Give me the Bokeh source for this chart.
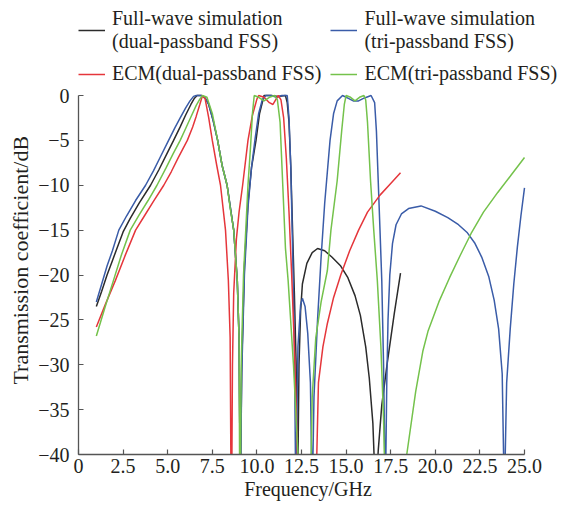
from bokeh.plotting import figure
from bokeh.models import Range1d, FixedTicker, Legend, LegendItem
from bokeh.embed import file_html
from bokeh.resources import INLINE

FONT = "Liberation Serif"
TXT = "#231f20"

# ---------------- data ----------------
x_ticks = [0, 2.5, 5, 7.5, 10, 12.5, 15, 17.5, 20, 22.5, 25]
x_tick_labels = ["0", "2.5", "5.0", "7.5", "10.0", "12.5", "15.0", "17.5", "20.0", "22.5", "25.0"]
y_ticks = [-40, -35, -30, -25, -20, -15, -10, -5, 0]
y_tick_labels = ["\u221240", "\u221235", "\u221230", "\u221225", "\u221220", "\u221215", "\u221210", "\u22125", "0"]
x_lo, x_hi = 0, 25
y_lo, y_hi = -40, 0
x_title = "Frequency/GHz"
y_title = "Transmission coefficient/dB"

# Full-wave simulation (dual-passband FSS)
black_f = [1.0, 1.3, 1.6, 1.9, 2.2, 2.5, 2.9, 3.4, 4.04, 4.5,
           5.0, 5.33, 5.7, 6.0, 6.3, 6.5, 6.65, 6.9, 7.1, 7.3,
           7.55, 7.8, 8.05, 8.33, 8.55, 8.7, 8.9, 9.0, 9.07, 9.15,
           9.3, 9.5, 9.7, 9.95, 10.15, 10.4, 10.8, 11.2, 11.6, 11.7,
           11.8, 11.9, 12.0, 12.1, 12.2, 12.28, 12.36, 12.45, 12.55, 12.8,
           13.1, 13.4, 13.8, 14.2, 14.7, 15.1, 15.5, 15.8, 16.1, 16.3,
           16.5, 16.66, 16.8, 17.0, 17.3, 17.7, 18.05]
black_db = [-23.5, -21.8, -20.0, -18.4, -16.8, -15.2, -13.7, -12.0, -10.0, -8.3,
            -6.3, -5.0, -3.5, -2.2, -1.0, -0.3, 0, 0, -0.3, -1.0,
            -2.8, -5.0, -7.8, -10.0, -13.0, -15.0, -20.6, -27, -45, -30,
            -19, -12, -8, -5, -2, 0, 0, -0.1, 0, -0.8,
            -3, -8, -15, -22, -30, -45, -30, -24, -21, -18.7,
            -17.5, -17.05, -17.3, -18.0, -19.0, -20.3, -22.3, -24.5, -28.0, -31.5,
            -36.5, -45, -39.6, -34.5, -29.9, -24.3, -19.8]

# Full-wave simulation (tri-passband FSS)
blue_f = [1.0, 1.3, 1.6, 1.9, 2.26, 2.7, 3.2, 3.76, 4.2, 4.6,
          5.05, 5.4, 5.7, 6.0, 6.25, 6.45, 6.6, 6.9, 7.1, 7.3,
          7.55, 7.8, 8.05, 8.33, 8.55, 8.7, 8.9, 9.0, 9.07, 9.15,
          9.3, 9.5, 9.7, 9.9, 10.1, 10.3, 10.5, 10.8, 11.1, 11.4,
          11.7, 11.8, 11.9, 12.0, 12.1, 12.18, 12.3, 12.45, 12.55, 12.7,
          12.85, 13.0, 13.1, 13.2, 13.4, 13.6, 13.8, 13.95, 14.1, 14.3,
          14.5, 14.8, 15.1, 15.4, 15.7, 16.0, 16.4, 16.6, 16.7, 16.8,
          16.9, 17.0, 17.1, 17.2, 17.28, 17.35, 17.45, 17.6, 17.8, 18.1,
          18.5, 19.2, 20.0, 20.7, 21.3, 21.8, 22.2, 22.6, 23.0, 23.3,
          23.55, 23.75, 23.87, 24.0, 24.2, 24.4, 24.6, 24.8, 25.0]
blue_db = [-23.0, -21.0, -19.0, -17.3, -15.0, -13.4, -11.7, -10.0, -8.4, -6.8,
           -5.0, -3.6, -2.5, -1.4, -0.6, -0.1, 0, 0, -0.3, -1.0,
           -2.8, -5.0, -7.8, -10.0, -13.0, -15.0, -20.6, -27, -45, -31,
           -20, -12.5, -8, -4.8, -2, -0.5, 0, 0, -0.2, 0,
           0, -2.5, -8, -17, -27, -45, -28, -23.3, -22.6, -23.5,
           -26.5, -32, -45, -33.6, -25, -18, -12, -8.5, -5, -2,
           -0.6, 0, -0.3, -0.6, -0.6, -0.3, 0, -0.8, -4, -9.5,
           -15, -20.6, -30, -45, -32, -25, -20, -16.5, -14.4, -13.2,
           -12.6, -12.3, -12.9, -13.6, -14.4, -15.3, -16.4, -18.0, -20.2, -22.8,
           -26, -31, -45, -32, -26, -21, -16.9, -13.4, -10.3]

# ECM (dual-passband FSS)
red_f = [1.0, 1.5, 2.07, 2.6, 3.2, 3.7, 4.2, 4.78, 5.2, 5.6,
         6.1, 6.4, 6.6, 6.8, 6.95, 7.1, 7.3, 7.5, 7.75, 7.96,
         8.1, 8.24, 8.4, 8.5, 8.57, 8.63, 8.7, 8.85, 9.0, 9.2,
         9.5, 9.75, 10.0, 10.1, 10.4, 10.7, 10.9, 11.05, 11.2, 11.35,
         11.5, 11.65, 11.8, 11.95, 12.1, 12.25, 12.35, 12.8, 13.3, 13.45,
         13.7, 13.95, 14.3, 14.7, 15.2, 15.7, 16.2, 16.9, 17.5, 18.05]
red_db = [-25.8, -23.3, -20.6, -17.9, -15.0, -13.4, -11.8, -10.0, -8.5, -6.9,
          -5.0, -3.5, -2.3, -1.0, 0, -0.4, -2.5, -5.0, -7.8, -10.0,
          -12.5, -15.0, -20.6, -27, -50, -30, -22, -16, -13, -10,
          -5, -2.2, -0.4, 0, -0.2, -0.8, -1.0, -0.5, 0, -0.5,
          -2.5, -7, -13, -20, -28, -38, -50, -60, -45, -32,
          -28, -25.4, -22.5, -20.0, -17.3, -15.0, -13.0, -11.1, -9.8, -8.6]

# ECM (tri-passband FSS)
green_f = [1.0, 1.5, 1.96, 2.4, 2.9, 3.4, 3.9, 4.4, 4.9, 5.3,
           5.7, 6.0, 6.3, 6.6, 6.8, 6.95, 7.2, 7.5, 7.8, 8.05,
           8.33, 8.5, 8.7, 8.9, 9.0, 9.05, 9.12, 9.25, 9.5, 9.65,
           9.75, 9.85, 10.1, 10.4, 10.7, 11.0, 11.15, 11.3, 11.45, 11.6,
           11.75, 12.05, 12.3, 12.4, 12.7, 13.0, 13.1, 13.3, 13.6, 13.95,
           14.15, 14.5, 14.75, 14.9, 15.0, 15.25, 15.5, 15.75, 16.0, 16.1,
           16.2, 16.37, 16.55, 16.75, 16.95, 17.1, 17.2, 17.8, 18.4, 18.9,
           19.3, 19.6, 20.2, 20.8, 21.4, 22.0, 22.7, 23.5, 24.2, 25.0]
green_db = [-26.8, -23.5, -20.6, -17.8, -15.0, -13.3, -11.7, -10.0, -8.1, -6.5,
            -5.0, -3.7, -2.4, -1.1, -0.4, 0, -0.2, -2.0, -5.0, -7.8,
            -10.0, -12.5, -15.0, -20.6, -27, -50, -30, -20, -10, -5.5,
            -2, 0, -0.2, -0.6, -0.2, 0, -0.5, -3, -10, -17,
            -20.6, -30, -40, -50, -60, -45, -33.6, -27, -23, -19.5,
            -15, -9.5, -4, -1, 0, -0.2, -0.6, -0.2, 0, -0.5,
            -3, -9.5, -15, -20.6, -28, -36, -45, -60, -40, -33,
            -28.5, -26.2, -23.0, -20.3, -17.8, -15.4, -13.0, -10.8, -9.0, -6.9]

series_names = ["Full-wave simulation\n(dual-passband FSS)",
                "Full-wave simulation\n(tri-passband FSS)",
                "ECM(dual-passband FSS)",
                "ECM(tri-passband FSS)"]
series_colors = ["#2b2b2b", "#3a5ca8", "#e5363b", "#74c24b"]
series_f = [black_f, blue_f, red_f, green_f]
series_db = [black_db, blue_db, red_db, green_db]

# ---------------- layout (pixels) ----------------
W, H = 567, 506
B_LEFT, B_RIGHT, B_TOP, B_BOTTOM = 78, 5, 5, 52
AX_X0, AX_X1 = 78, 524      # pixel span of the 0..25 axis
AX_Y0, AX_Y1 = 454, 95      # pixel span of the -40..0 axis
frame_w = W - B_LEFT - B_RIGHT
frame_h = H - B_TOP - B_BOTTOM
ppx = (AX_X1 - AX_X0) / (x_hi - x_lo)
ppy = (AX_Y0 - AX_Y1) / (y_hi - y_lo)
# the frame is extended right and up so the legend fits inside it;
# the axes themselves stay bounded to 0..25 and -40..0
x_range = Range1d(x_lo, x_lo + frame_w / ppx)
y_range = Range1d(y_lo, y_lo + frame_h / ppy)

p = figure(width=W, height=H, x_range=x_range, y_range=y_range,
           toolbar_location=None, output_backend="svg",
           min_border_left=B_LEFT, min_border_right=B_RIGHT,
           min_border_top=B_TOP, min_border_bottom=B_BOTTOM,
           outline_line_color=None)
p.xgrid.visible = False
p.ygrid.visible = False

renderers = []
for f, db, c in zip(series_f, series_db, series_colors):
    renderers.append(p.line(x=f, y=db, line_color=c, line_width=1.5))

items = [LegendItem(label=n, renderers=[r]) for n, r in zip(series_names, renderers)]
legend = Legend(items=items, location=(0, AX_Y0 - 85), orientation="horizontal", ncols=2,
                border_line_color=None, background_fill_alpha=0, padding=0, margin=0,
                spacing=9, glyph_width=27, glyph_height=20, label_standoff=7,
                label_text_font=FONT, label_text_font_size="20px", label_text_color=TXT)
p.add_layout(legend, "center")

NBSP = "\u00a0"
p.xaxis.ticker = FixedTicker(ticks=x_ticks)
p.xaxis.major_label_overrides = dict(zip(x_ticks, x_tick_labels))
p.xaxis.bounds = (x_lo, x_hi)
p.yaxis.ticker = FixedTicker(ticks=y_ticks)
p.yaxis.major_label_overrides = dict(zip(y_ticks, y_tick_labels))
p.yaxis.bounds = (y_lo, y_hi)
# trailing no-break spaces move the centred titles over the bounded axes
p.xaxis.axis_label = x_title + NBSP * 5
p.yaxis.axis_label = y_title + NBSP * 11

for ax in (p.xaxis, p.yaxis):
    ax.axis_line_color = "#555555"
    ax.axis_line_width = 1.3
    ax.major_tick_line_color = "#555555"
    ax.major_tick_line_width = 1.2
    ax.major_tick_in = 5
    ax.major_tick_out = 0
    ax.minor_tick_line_color = None
    ax.major_label_text_font = FONT
    ax.major_label_text_font_size = "20px"
    ax.major_label_text_color = TXT
    ax.axis_label_text_font = FONT
    ax.axis_label_text_font_size = "20px"
    ax.axis_label_text_font_style = "normal"
    ax.axis_label_text_color = TXT
    ax.axis_label_standoff = 2

p.yaxis.axis_label_text_font_size = "22px"
p.xaxis.major_label_standoff = 4
p.yaxis.major_label_standoff = 9

open("out.html", "w").write(file_html(p, INLINE))
